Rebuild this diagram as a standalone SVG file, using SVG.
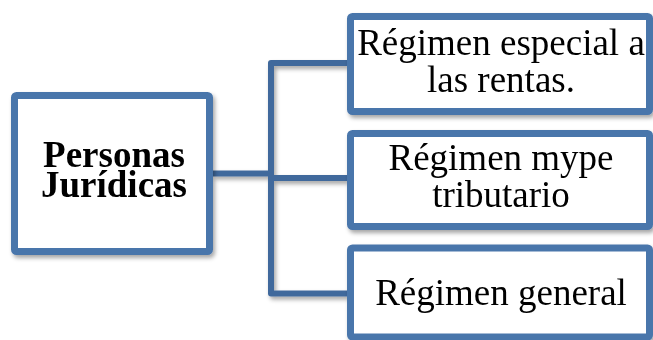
<svg xmlns="http://www.w3.org/2000/svg" width="653" height="340" viewBox="0 0 653 340">
  <defs>
    <filter id="shadow" x="-10%" y="-10%" width="125%" height="130%">
      <feDropShadow dx="2" dy="3" stdDeviation="2" flood-color="#000" flood-opacity="0.35"/>
    </filter>
    <style>
      .box { fill: #ffffff; stroke: #4a76ab; stroke-width: 7; }
      .conn { fill: none; stroke: #41699c; stroke-width: 6; stroke-linejoin: round; }
      .lbl { font-family: "Liberation Serif", "Times New Roman", serif; font-size: 37px; fill: #000; text-anchor: middle; }
      .lblb { font-family: "Liberation Serif", "Times New Roman", serif; font-size: 37px; font-weight: bold; fill: #000; text-anchor: middle; }
    </style>
  </defs>
  <rect width="653" height="340" fill="#ffffff"/>
  <g id="connectors" filter="url(#shadow)">
    <path class="conn" d="M213 173.5 H271"/>
    <path class="conn" d="M347 63 H271 V293.5 H347"/>
    <path class="conn" d="M271 178 H347"/>
  </g>
  <g id="node-personas" filter="url(#shadow)">
    <rect class="box" x="14.5" y="95.5" width="195" height="156" rx="2"/>
    <text class="lblb" x="114" y="166.5">Personas</text>
    <text class="lblb" x="114" y="196.5">Jurídicas</text>
  </g>
  <g id="node-especial" filter="url(#shadow)">
    <rect class="box" x="350.5" y="16.5" width="299" height="95" rx="2"/>
    <text class="lbl" x="501" y="55">Régimen especial a</text>
    <text class="lbl" x="501" y="91.5">las rentas.</text>
  </g>
  <g id="node-mype" filter="url(#shadow)">
    <rect class="box" x="350.5" y="133.5" width="299" height="93" rx="2"/>
    <text class="lbl" x="501" y="170">Régimen mype</text>
    <text class="lbl" x="501" y="206.5">tributario</text>
  </g>
  <g id="node-general" filter="url(#shadow)">
    <rect class="box" x="350.5" y="248" width="299" height="89" rx="2"/>
    <text class="lbl" x="501" y="305">Régimen general</text>
  </g>
</svg>
